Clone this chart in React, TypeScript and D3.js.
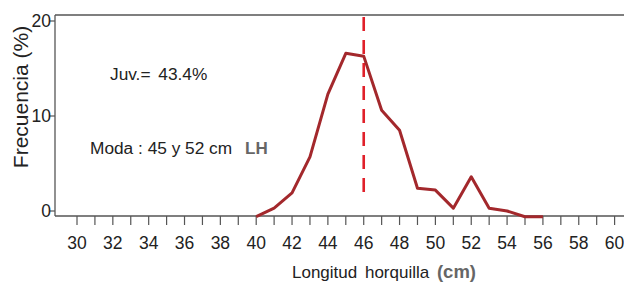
import React from "react";
import { scaleLinear, line, range } from "d3";

// talla (cm) y frecuencia (%)
const lengths = [40, 41, 42, 43, 44, 45, 46, 47, 48, 49, 50, 51, 52, 53, 54, 55, 56];
const freqs = [-0.6, 0.3, 1.9, 5.7, 12.3, 16.6, 16.3, 10.6, 8.5, 2.4, 2.2, 0.3, 3.6, 0.3, 0.0, -0.6, -0.6];
const xTickLabels = [30, 32, 34, 36, 38, 40, 42, 44, 46, 48, 50, 52, 54, 56, 58, 60];
const yTickLabels = [0, 10, 20];
const modeLine = 46;

const W = 624;
const H = 285;
const FONT = "'Liberation Sans', Arial, sans-serif";

const App = () => {
  const x = scaleLinear().domain([30, 60]).range([77, 614.6]);
  const y = scaleLinear().domain([0, 20]).range([211, 21]);

  const axisLeft = 55;
  const axisBottom = 216;
  const frameTop = 15;

  const path = line<number>()
    .x((d, i) => x(lengths[i]))
    .y((d) => y(d))(freqs);

  const minorTicks = range(30, 62);

  return (
    <svg
      width={W}
      height={H}
      style={{ position: "absolute", left: 0, top: 0, background: "#fff" }}
      fontFamily={FONT}
    >
      {/* frame */}
      <line x1={axisLeft} x2={W} y1={frameTop} y2={frameTop} stroke="#555" strokeWidth={1.3} />
      <line x1={axisLeft} x2={axisLeft} y1={frameTop} y2={axisBottom} stroke="#555" strokeWidth={1.3} />
      <line x1={axisLeft} x2={W} y1={axisBottom} y2={axisBottom} stroke="#555" strokeWidth={1.3} />

      {/* y ticks */}
      {yTickLabels.map((t) => (
        <g key={t}>
          <line x1={axisLeft - 5} x2={axisLeft} y1={y(t)} y2={y(t)} stroke="#555" strokeWidth={1.2} />
          <text x={axisLeft - 4} y={y(t)} dy="0.36em" textAnchor="end" fontSize={17.5} fill="#222">
            {t}
          </text>
        </g>
      ))}

      {/* x ticks */}
      {minorTicks.map((t) => (
        <line key={t} x1={x(t)} x2={x(t)} y1={axisBottom} y2={axisBottom + 9} stroke="#555" strokeWidth={1.2} />
      ))}
      {xTickLabels.map((t) => (
        <text key={t} x={x(t)} y={249} textAnchor="middle" fontSize={17.5} fill="#222">
          {t}
        </text>
      ))}

      {/* mode dashed line */}
      <line
        x1={x(modeLine)}
        x2={x(modeLine)}
        y1={frameTop + 2}
        y2={193}
        stroke="#e0202a"
        strokeWidth={2.6}
        strokeDasharray="14 9"
      />

      {/* series */}
      <path d={path || ""} fill="none" stroke="#a3282c" strokeWidth={3} strokeLinejoin="round" />

      {/* annotations */}
      <text x={110} y={80} fontSize={17.3} fill="#222" style={{ wordSpacing: "3px" }}>Juv.= 43.4%</text>
      <text x={90} y={154} fontSize={17.3} fill="#222">Moda : 45 y 52 cm</text>
      <text x={245} y={154} fontSize={17} fontWeight="bold" fill="#666">LH</text>

      {/* axis titles */}
      <text x={292} y={278} fontSize={17} fill="#222" style={{ wordSpacing: "3px" }}>
        Longitud horquilla{" "}
        <tspan fontWeight="bold" fill="#666" fontSize={18.5}>(cm)</tspan>
      </text>
      <text
        transform={`translate(28, 97) rotate(-90)`}
        textAnchor="middle"
        fontSize={21}
        fill="#222"
      >
        Frecuencia (%)
      </text>
    </svg>
  );
};

export default App;
